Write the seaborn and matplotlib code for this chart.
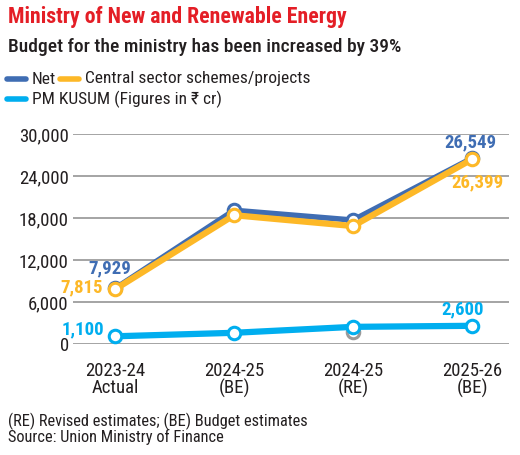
import matplotlib
matplotlib.use("Agg")
import matplotlib.pyplot as plt
import seaborn as sns
import pandas as pd
from matplotlib.lines import Line2D

# data (Rs crore)
years = ["2023-24\nActual", "2024-25\n(BE)", "2024-25\n(RE)", "2025-26\n(BE)"]
net = [7929, 19100, 17700, 26549]
central = [7815, 18400, 16850, 26399]
kusum = [1100, 1600, 2450, 2600]
kusum_grey = [None, None, 1650, None]
yticks = [0, 6000, 12000, 18000, 24000, 30000]

BLUE = "#3F6DB3"
YELLOW = "#FDB827"
CYAN = "#00AEEF"
RED = "#E41E26"
INK = "#231f20"
FONT = ["Roboto Condensed", "DejaVu Sans"]

sns.set_theme(style="white")
plt.rcParams["font.family"] = FONT

df = pd.DataFrame({"x": range(len(years)), "net": net, "central": central, "kusum": kusum})

fig = plt.figure(figsize=(5.2, 4.55), dpi=100)
ax = fig.add_axes([73 / 520, 1 - 344 / 455, (509 - 73) / 520, (344 - 134) / 455])

for y in yticks:
    ax.axhline(y, color="#8c8c8c", lw=1.1, zorder=0)

# grey marker behind KUSUM RE point
ax.plot([2], [kusum_grey[2]], marker="o", ms=9, mfc="white", mec="#9a9a9a", mew=2.2,
        ls="none", zorder=1, clip_on=False)

mk = dict(marker="o", markersize=9, markerfacecolor="white", markeredgewidth=2.2)
sns.lineplot(data=df, x="x", y="kusum", ax=ax, color=CYAN, lw=4.5, markeredgecolor=CYAN,
             zorder=2, clip_on=False, **mk)
sns.lineplot(data=df, x="x", y="net", ax=ax, color=BLUE, lw=4, markeredgecolor=BLUE,
             zorder=3, clip_on=False, **mk)
sns.lineplot(data=df, x="x", y="central", ax=ax, color=YELLOW, lw=4.5, markeredgecolor=YELLOW,
             zorder=4, clip_on=False, **mk)

ax.set_xlim(-0.353, 3.31)
ax.set_ylim(0, 30000)
ax.set_xticks(range(len(years)))
ax.set_xticklabels(years, fontsize=13.5, linespacing=0.9)
ax.set_yticks(yticks)
ax.set_yticklabels([f"{v:,}" for v in yticks], fontsize=13.5)
ax.tick_params(axis="both", length=0, colors=INK)
ax.tick_params(axis="y", pad=3)
ax.tick_params(axis="x", pad=13)
ax.set_xlabel("")
ax.set_ylabel("")
for s in ax.spines.values():
    s.set_visible(False)
ax.patch.set_alpha(0)

lab = dict(textcoords="offset points", fontsize=13.5, fontweight="bold", va="center")
ax.annotate(f"{net[0]:,}", (0, net[0]), xytext=(-3.6, 14.8), ha="center", color=BLUE, **lab)
ax.annotate(f"{central[0]:,}", (0, central[0]), xytext=(-9, 1.5), ha="right", color=YELLOW, **lab)
ax.annotate(f"{kusum[0]:,}", (0, kusum[0]), xytext=(-8, 5), ha="right", color=CYAN, **lab)
ax.annotate(f"{net[3]:,}", (3, net[3]), xytext=(-1.5, 11.5), ha="center", color=BLUE, **lab)
ax.annotate(f"{central[3]:,}", (3, central[3]), xytext=(3.6, -16.5), ha="center", color=YELLOW, **lab)
ax.annotate(f"{kusum[3]:,}", (3, kusum[3]), xytext=(-7, 12), ha="center", color=CYAN, **lab)

# header
fig.text(8 / 520, 1 - 17 / 455, "Ministry of New and Renewable Energy", color=RED,
         fontsize=15.7, fontweight="bold", va="center", ha="left")
fig.text(8 / 520, 1 - 47 / 455, "Budget for the ministry has been increased by 39%",
         color=INK, fontsize=14, fontweight="medium", va="center", ha="left")

# legend
def legend_item(x0, y, color, text):
    fig.add_artist(Line2D([x0 / 520, (x0 + 19) / 520], [1 - y / 455, 1 - y / 455],
                          color=color, lw=4, solid_capstyle="round", transform=fig.transFigure))
    fig.text((x0 + 25) / 520, 1 - y / 455, text, color=INK, fontsize=12.5,
             va="center", ha="left")

legend_item(7, 79, BLUE, "Net")
legend_item(60, 79, YELLOW, "Central sector schemes/projects")
legend_item(7, 99, CYAN, "PM KUSUM (Figures in ₹ cr)")

# footer
fig.text(8 / 520, 1 - 421 / 455, "(RE) Revised estimates; (BE) Budget estimates",
         color=INK, fontsize=11.8, va="center", ha="left")
fig.text(8 / 520, 1 - 437 / 455, "Source: Union Ministry of Finance",
         color=INK, fontsize=11.8, va="center", ha="left")

fig.savefig("out.png", dpi=100, facecolor="white")
